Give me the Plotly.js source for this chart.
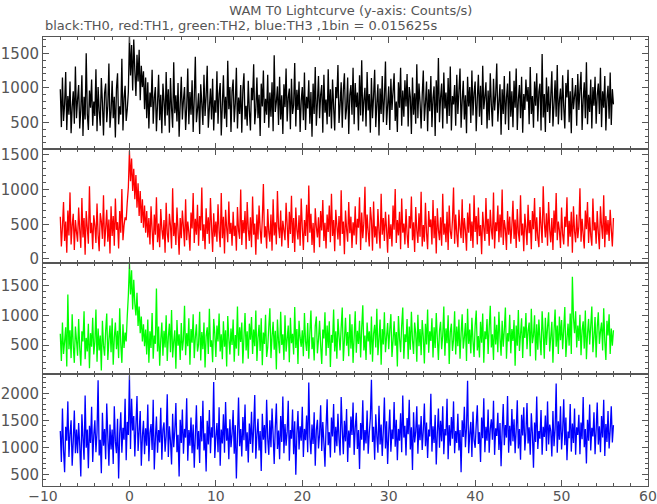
<!DOCTYPE html>
<html>
<head>
<meta charset="utf-8">
<script src="https://cdn.plot.ly/plotly-3.0.1.min.js"></script>
<style>html,body{margin:0;padding:0;background:#fff;}#chart{width:657px;height:504px;}</style>
</head>
<body>
<div id="chart"></div>
<script>
// Time axis (s from T0); values at a coarsened bin width
const timeStart = -8;
const binStep = 0.125;

// TH0 (black) counts/s
const th0 = [
980,430,1150,520,760,1230,390,880,610,1090,340,720,950,480,1310,560,
830,1040,410,690,1180,300,870,540,1500,620,390,960,710,1120,450,800,
590,1270,370,1010,660,450,1140,780,310,920,1060,500,740,1350,420,650,
1100,560,870,280,990,1210,470,730,610,1420,380,850,1030,520,690,940,
1740,1180,1620,960,1700,1250,880,1480,1090,1550,820,1320,1010,1240,690,1150,
560,1080,410,930,720,1260,480,850,1010,370,770,1190,530,900,340,1060,
810,450,1230,600,980,350,1140,700,420,1370,630,890,510,1070,290,760,
1160,540,830,1010,390,720,1280,470,940,610,1110,360,850,1450,500,680,
920,330,1050,770,460,1190,590,880,1320,420,710,990,540,1130,380,820,
640,1240,480,910,1070,310,760,1180,550,870,430,1390,690,1010,360,950,
1120,500,780,1290,410,860,620,1040,350,970,1210,540,740,450,1100,670,
380,1000,820,1340,470,690,1150,560,900,300,1060,730,1250,490,840,610,
1190,420,930,580,1080,370,1470,650,800,1020,460,1160,540,890,330,1050,
720,1280,510,860,990,400,1130,620,750,1360,440,970,680,1090,360,810,
1010,530,1220,390,870,700,1110,480,940,290,1060,620,1300,450,790,1170,
560,900,1040,350,1190,640,830,470,1270,580,980,410,1120,720,380,1010,
850,1330,490,760,1080,420,960,1210,540,700,1150,330,890,1040,610,1290,
470,1070,720,930,380,1180,600,1400,510,820,1000,440,1230,670,910,350,
1140,560,880,1260,430,770,1050,310,990,620,1170,500,850,1380,460,740,
1020,390,1130,680,940,1210,520,800,360,1080,710,1290,450,960,580,1110,
730,1200,440,1010,870,330,1150,610,920,480,1340,560,1060,790,410,890,
1250,520,780,1090,370,980,660,1170,430,850,1020,300,1110,640,1430,500,
860,1060,410,1220,700,930,480,1140,590,1310,380,880,760,1040,450,1190,
620,950,1280,420,810,1100,540,890,340,1160,730,1010,490,1250,600,920,
1090,370,840,1190,580,1030,460,1320,690,870,1080,410,960,530,1210,750,
440,1130,670,900,1350,510,790,1050,320,980,620,1170,470,860,1060,390,
1240,580,950,430,1100,710,1280,390,830,1040,560,1160,350,910,680,1120,
800,1010,470,1300,620,880,420,1090,740,1210,510,940,1060,380,1490,570,
910,360,1150,650,1020,490,870,1240,440,760,1110,580,1330,470,820,990,
530,1180,720,410,1070,860,1260,500,950,340,1140,690,880,1040,450,1200,
680,970,1230,390,830,1080,560,1370,470,900,650,1120,410,1010,740,1160,
480,890,1060,620,1290,430,950,710,1170,380,840,1030,550,1220,460,980,
760];

// TH1 (red) counts/s
const th1 = [
610,180,470,820,260,540,90,700,340,960,210,480,650,130,560,390,
250,740,420,160,880,310,590,60,690,450,220,1050,370,520,140,630,
480,230,800,350,110,660,540,290,920,180,440,710,250,570,80,760,
330,620,190,870,420,530,150,690,380,1010,270,480,600,560,820,1030,
1560,1120,1450,980,1300,860,1210,740,1090,620,980,520,860,450,770,380,
690,310,590,210,760,420,130,640,350,890,240,510,170,720,430,280,
560,90,810,370,240,650,480,150,1020,330,520,200,740,410,60,590,
300,700,460,180,860,270,540,380,120,670,440,950,230,580,350,780,
190,620,410,1030,260,500,140,730,360,600,220,880,470,100,660,320,
540,250,790,400,170,950,300,610,80,710,450,240,830,360,520,190,
680,330,480,120,750,410,290,1000,200,560,370,690,140,820,430,260,
600,170,900,350,510,60,640,280,770,430,220,580,1080,310,470,150,
720,390,250,640,120,860,340,530,210,980,460,300,700,180,550,410,
270,810,490,160,680,360,910,230,590,100,740,420,280,630,190,870,
450,130,560,330,780,240,1060,380,650,200,520,90,730,460,310,600,
170,690,410,850,260,520,150,640,390,770,240,940,330,560,110,710,
480,280,620,190,990,360,540,70,700,430,250,820,370,610,160,530,
340,760,210,580,450,890,130,670,300,520,1040,240,640,390,180,750,
560,120,830,310,470,220,720,400,150,940,350,590,260,680,430,90,
640,290,500,180,770,420,1010,230,560,340,680,140,870,380,510,210,
720,360,160,620,440,900,270,530,100,750,410,230,660,320,970,180,
490,250,810,380,140,690,460,570,210,850,300,620,80,730,420,270,
600,190,940,350,510,240,680,130,770,400,290,560,1030,220,640,360,
170,710,440,300,860,230,590,410,120,670,380,800,260,540,160,920,
390,620,210,740,330,490,70,680,450,260,880,360,580,190,710,420,
280,960,150,530,400,770,240,640,310,1000,200,560,430,130,690,350,
610,220,480,840,290,570,160,720,380,250,920,340,510,110,650,440,
200,780,370,560,140,690,430,880,260,600,310,170,750,480,230,1050,
530,310,660,190,820,420,240,590,130,700,380,950,270,540,410,160,
740,350,210,610,460,890,180,550,320,680,90,760,400,240,640,300,
470,1020,250,580,360,150,700,430,820,230,600,340,190,870,410,530,
220,690,380,140,760,480,290,920,170,620,350,560,260,710,430,180,
590];

// TH2 (green) counts/s
const th2 = [
690,230,880,350,560,800,140,1350,430,750,280,1020,490,200,810,580,
320,940,450,150,730,560,1070,260,620,390,860,110,700,470,960,340,
550,1100,220,780,410,660,70,910,490,320,740,1030,250,590,830,380,
950,170,620,880,430,740,280,1120,510,200,850,450,710,560,990,1340,
1880,1350,1760,1100,1600,1200,1000,1380,820,1150,700,980,560,850,480,760,
340,930,200,730,450,1040,270,660,520,1450,390,810,150,590,880,320,
740,460,1000,230,630,860,380,1090,290,560,750,100,920,490,680,250,
870,410,590,1160,330,700,480,950,170,770,540,1020,280,630,850,390,
510,1060,240,720,430,880,120,650,800,350,1110,470,580,210,940,690,
300,830,560,1030,390,680,260,900,470,750,140,990,610,340,780,500,
930,220,670,440,1150,320,800,550,880,190,630,1040,410,730,270,860,
590,970,350,760,480,1080,230,620,840,400,950,160,710,520,1010,300,
460,810,1120,280,650,890,420,740,90,930,570,360,1060,500,680,250,
1000,390,600,830,210,960,530,690,340,1140,450,770,180,910,620,470,
750,310,1040,560,400,870,270,700,1080,430,630,240,820,980,360,590,
910,490,180,760,610,1050,320,830,450,900,130,670,540,1100,390,730,
270,940,650,410,800,1130,230,580,960,490,720,310,1020,440,850,200,
630,1070,370,740,520,910,290,790,1170,410,660,250,880,560,730,340,
980,220,690,840,460,1110,330,600,930,170,770,510,1050,380,640,870,
430,760,1020,300,570,900,490,720,140,990,610,380,830,1130,270,680,
550,940,260,810,420,1060,590,350,880,700,220,1010,480,770,330,920,
640,190,860,510,1100,370,730,570,950,290,800,450,1040,610,250,740,
890,430,660,1150,320,780,530,1000,180,720,860,400,590,1070,340,810,
480,930,270,690,1020,440,630,870,230,1110,520,760,360,960,570,300,
820,1080,410,650,290,890,540,1030,200,730,600,940,350,790,1160,460,
680,250,980,510,840,380,1060,620,320,910,470,750,1130,270,700,560,
1010,360,770,570,920,150,830,490,1090,400,680,950,280,810,620,1040,
430,740,880,310,1110,530,660,1000,240,850,420,930,590,330,1070,710,
270,960,500,800,1050,390,640,890,200,740,1100,470,830,350,980,580,
920,430,760,1140,300,610,860,490,1030,350,1650,960,700,1070,460,830,
570,1010,330,750,900,440,1080,260,690,940,510,820,1150,380,650,970,
290,800,1050,520,730,880,410,1120,570,250,910,660,1020,350,780,490,
750];

// TH3 (blue) counts/s
const th3 = [
1300,730,1720,950,540,1380,1120,1850,820,1240,1500,660,1110,1680,890,1330,
890,1450,1030,460,1610,1170,770,1960,990,1330,610,1400,1080,1750,730,1220,
1500,910,1280,2240,850,1140,520,1640,1030,1340,780,1810,1200,660,1420,960,
1330,690,1760,1100,890,1530,420,1250,1650,900,1360,1140,1900,760,1470,1230,
2330,970,1900,1310,1580,830,1400,1950,930,1290,1670,660,1200,1490,870,1350,
1030,1790,740,1270,1430,950,1880,590,1160,1570,900,1320,1090,1730,770,1330,
1460,920,1210,1980,820,1390,1120,680,1620,1000,1300,1820,910,1230,460,1510,
1080,1700,880,1340,1180,1910,750,1320,1030,1550,890,1420,620,1210,1780,960,
1300,710,1580,1110,1860,940,1260,550,1490,1050,1690,890,1370,1180,2210,800,
1190,1450,910,1740,660,1330,1070,1610,900,1840,1120,1350,780,1520,1000,1250,
1690,880,1410,420,1200,1920,1020,1340,830,1560,1130,1790,930,1280,720,1440,
1060,1660,900,1370,1970,790,1230,1530,940,1300,560,1620,1140,1410,890,1880,
1170,860,1500,1000,1720,1230,690,1360,1810,970,1310,780,1580,1100,1940,890,
1430,1030,1290,1860,750,1320,1160,1700,870,1480,490,1250,1670,960,1390,1120,
1750,820,1340,1130,1590,910,2200,1190,870,1420,1060,1650,660,1320,1510,980,
1240,1780,930,1470,1090,640,1360,1890,1040,1280,810,1550,1200,1800,900,1380,
1020,1620,1150,850,1930,1330,870,1490,1110,1710,730,1310,990,1570,1230,1830,
860,1360,1640,970,1320,600,1450,1140,1870,940,1320,1070,1680,880,1270,1540,
2250,1100,1380,770,1610,1210,900,1770,1050,1420,840,1300,1920,980,1480,690,
1250,1700,920,1330,1150,1840,1010,1510,760,1340,1120,1630,910,1960,1180,1400,
850,1540,1240,1880,960,1370,580,1650,1090,1290,1760,880,1420,1130,1580,950,
1310,1810,1020,1460,800,1330,1200,1990,920,1390,1080,1600,680,1270,1720,990,
1490,1110,1760,870,1340,1220,1900,780,1410,1030,1560,1160,1850,890,1300,1080,
1620,940,1320,540,1500,1190,1750,1000,1360,2230,890,1240,1470,820,1660,1130,
990,1420,1780,1060,1280,730,1550,1170,1910,910,1380,1120,1700,900,1340,1520,
1140,1860,860,1350,1210,1640,950,1450,650,1310,1800,1040,1410,1180,1950,900,
1400,1030,1710,1110,1520,890,1330,1870,980,1340,770,1600,1220,1740,940,1280,
1820,1070,1370,860,1630,1250,620,1460,1100,1940,970,1300,1160,1690,860,1380,
1190,1590,930,1850,1050,1420,1300,830,1670,1020,1330,2180,900,1480,1140,1760,
960,1310,1890,1040,1550,760,1290,1170,1800,920,1440,1080,1720,860,1370,1230,
1600,870,1460,1150,1930,1000,1340,700,1510,1120,1790,940,1360,1200,1650,870,
1320,1830,1050,1390,910,1580,1180,1880,840,1430,1100,1670,980,1320,1760,1090,
1410];

const seriesList = [th0, th1, th2, th3];
const seriesNames = ['TH0', 'TH1', 'TH2', 'TH3'];
const seriesColors = ['#000000', '#ff0000', '#00ff00', '#0000ff'];
const yRanges = [[113, 1736], [-58, 1586], [12, 1882], [283, 2357]];
const xRange = [-10, 60];
const xTickVals = [-10, 0, 10, 20, 30, 40, 50, 60];
const titleText = 'WAM T0 Lightcurve (y-axis: Counts/s)';
const subtitleText = 'black:TH0, red:TH1, green:TH2, blue:TH3 ,1bin = 0.015625s';

const axisColor = '#555555';
const fontFam = '"DejaVu Sans", "Liberation Sans", sans-serif';
const domains = [[0.7506, 1], [0.4967, 0.7506], [0.2494, 0.4967], [0, 0.2494]];

const traces = seriesList.map((vals, i) => ({
  type: 'scatter', mode: 'lines', name: seriesNames[i],
  x0: timeStart, dx: binStep, y: vals,
  xaxis: 'x' + (i + 1), yaxis: 'y' + (i + 1),
  line: {color: seriesColors[i], width: 1.3, simplify: false},
  hoverinfo: 'skip'
}));

const layout = {
  width: 657, height: 504,
  margin: {l: 43, r: 9, t: 37, b: 18},
  paper_bgcolor: '#ffffff', plot_bgcolor: '#ffffff',
  showlegend: false,
  font: {family: fontFam, color: axisColor, size: 15},
  title: {text: titleText, font: {family: fontFam, size: 13, color: axisColor},
          xref: 'container', x: 0.534, xanchor: 'center',
          yref: 'container', y: 1 - 10 / 504, yanchor: 'middle'},
  annotations: [{text: subtitleText, xref: 'paper', yref: 'paper', x: 0, y: 1 + 12 / 449,
                 xanchor: 'left', yanchor: 'middle', showarrow: false,
                 font: {family: fontFam, size: 13, color: axisColor}}]
};

for (let i = 0; i < 4; i++) {
  const n = i + 1;
  layout['xaxis' + (n === 1 ? '' : n)] = {
    anchor: 'y' + (n === 1 ? '' : n), range: xRange, autorange: false,
    showline: true, linecolor: axisColor, linewidth: 1, mirror: 'allticks',
    ticks: 'inside', ticklen: 6, tickcolor: axisColor, tickwidth: 1,
    tickmode: 'array', tickvals: xTickVals,
    showticklabels: n === 4, tickfont: {size: 14, color: axisColor},
    ticklabelstandoff: -3,
    minor: {ticks: 'inside', ticklen: 3, dtick: 2, tick0: 0, tickcolor: axisColor, showgrid: false},
    showgrid: false, zeroline: false,
    matches: n === 1 ? undefined : 'x'
  };
  layout['yaxis' + (n === 1 ? '' : n)] = {
    anchor: 'x' + (n === 1 ? '' : n), domain: domains[i], range: yRanges[i], autorange: false,
    showline: true, linecolor: axisColor, linewidth: 1, mirror: 'allticks',
    ticks: 'inside', ticklen: 6, tickcolor: axisColor, tickwidth: 1,
    dtick: 500, tick0: 0, tickfont: {size: 15, color: axisColor},
    minor: {ticks: 'inside', ticklen: 3, dtick: 100, tick0: 0, tickcolor: axisColor, showgrid: false},
    showgrid: false, zeroline: false
  };
}

Plotly.newPlot('chart', traces, layout, {displayModeBar: false, staticPlot: true});
</script>
</body>
</html>
